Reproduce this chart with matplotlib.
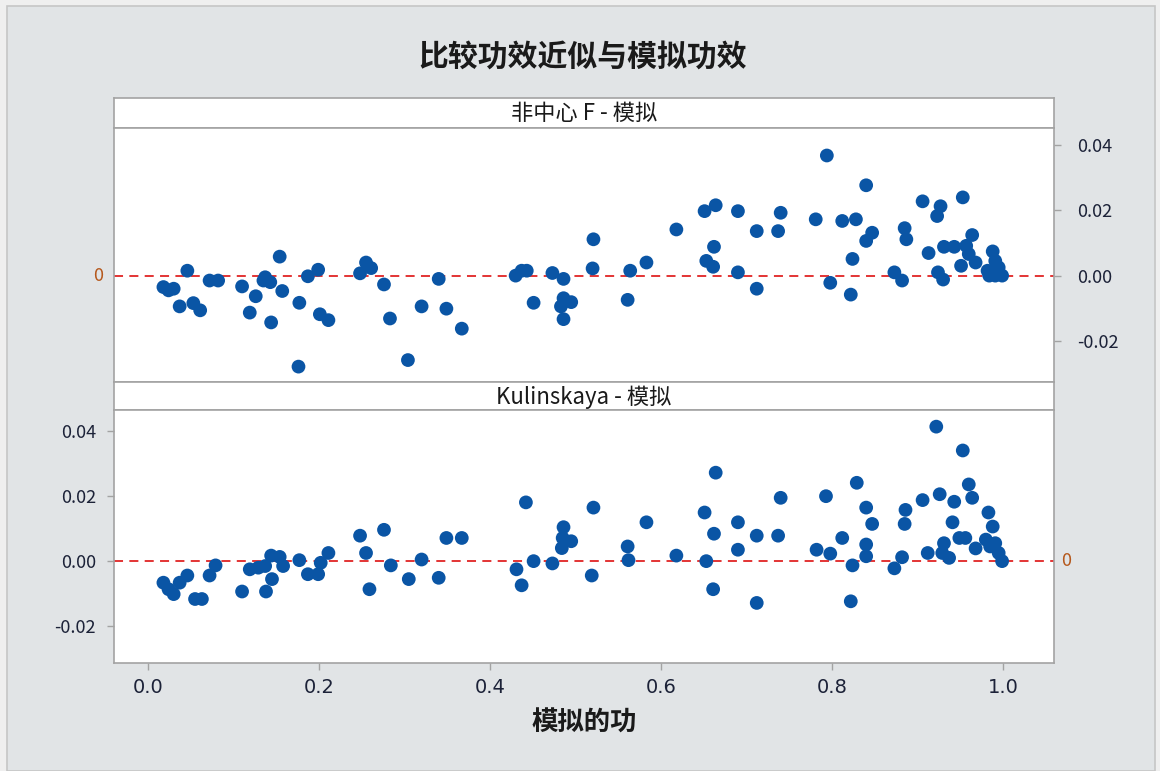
import matplotlib
matplotlib.use("Agg")
import matplotlib.pyplot as plt
from matplotlib import font_manager
from matplotlib.patches import Rectangle
from matplotlib.ticker import FormatStrFormatter

plt.rcParams['font.family'] = ['Noto Sans CJK SC', 'DejaVu Sans']
plt.rcParams['axes.unicode_minus'] = False

title = "比较功效近似与模拟功效"
xlabel = "模拟的功"
panel_f = "非中心 F - 模拟"
panel_k = "Kulinskaya - 模拟"
xticks = [0.0, 0.2, 0.4, 0.6, 0.8, 1.0]
yticks = [-0.02, 0.00, 0.02, 0.04]

# noncentral F approximation minus simulated power
f_power = [0.018, 0.024, 0.030, 0.046, 0.037, 0.053, 0.061, 0.072, 0.082, 0.110,
           0.126, 0.119, 0.135, 0.137, 0.143, 0.154, 0.157, 0.144, 0.177, 0.176,
           0.187, 0.199, 0.201, 0.211, 0.248, 0.255, 0.261, 0.276, 0.283, 0.304,
           0.320, 0.340, 0.349, 0.367, 0.430, 0.437, 0.443, 0.451, 0.473, 0.486,
           0.486, 0.495, 0.483, 0.486, 0.520, 0.521, 0.561, 0.564, 0.583, 0.618,
           0.651, 0.664, 0.653, 0.661, 0.662, 0.690, 0.690, 0.712, 0.712, 0.740,
           0.737, 0.781, 0.794, 0.798, 0.812, 0.828, 0.824, 0.822, 0.840, 0.840,
           0.847, 0.873, 0.882, 0.885, 0.887, 0.906, 0.927, 0.923, 0.953, 0.913,
           0.931, 0.943, 0.964, 0.957, 0.960, 0.951, 0.924, 0.930, 0.968, 0.988,
           0.991, 0.982, 0.995, 0.999, 0.991, 0.984]
f_diff = [-0.0035, -0.0045, -0.0040, 0.0015, -0.0094, -0.0084, -0.0106, -0.0015, -0.0015, -0.0033,
          -0.0063, -0.0113, -0.0015, -0.0005, -0.0020, 0.0058, -0.0047, -0.0143, -0.0083, -0.0278,
          -0.0002, 0.0018, -0.0118, -0.0136, 0.0007, 0.0040, 0.0023, -0.0027, -0.0131, -0.0258,
          -0.0094, -0.0010, -0.0101, -0.0162, 0.0000, 0.0015, 0.0015, -0.0083, 0.0008, -0.0010,
          -0.0069, -0.0081, -0.0094, -0.0133, 0.0022, 0.0111, -0.0074, 0.0015, 0.0040, 0.0141,
          0.0197, 0.0215, 0.0045, 0.0027, 0.0088, 0.0197, 0.0010, 0.0136, -0.0040, 0.0192,
          0.0136, 0.0172, 0.0367, -0.0022, 0.0167, 0.0172, 0.0051, -0.0058, 0.0276, 0.0106,
          0.0131, 0.0010, -0.0015, 0.0145, 0.0111, 0.0227, 0.0212, 0.0182, 0.0239, 0.0069,
          0.0088, 0.0088, 0.0124, 0.0091, 0.0066, 0.0030, 0.0010, -0.0012, 0.0040, 0.0074,
          0.0045, 0.0015, 0.0025, 0.0000, 0.0000, 0.0000]

# Kulinskaya approximation minus simulated power
k_power = [0.018, 0.024, 0.030, 0.037, 0.046, 0.055, 0.063, 0.072, 0.079, 0.110,
           0.119, 0.129, 0.137, 0.145, 0.138, 0.144, 0.154, 0.158, 0.177, 0.187,
           0.199, 0.202, 0.211, 0.248, 0.255, 0.259, 0.276, 0.284, 0.305, 0.320,
           0.340, 0.349, 0.367, 0.431, 0.437, 0.442, 0.451, 0.473, 0.486, 0.485,
           0.495, 0.484, 0.519, 0.521, 0.561, 0.562, 0.583, 0.618, 0.651, 0.664,
           0.653, 0.661, 0.662, 0.690, 0.690, 0.712, 0.712, 0.740, 0.737, 0.782,
           0.793, 0.798, 0.812, 0.829, 0.824, 0.822, 0.840, 0.847, 0.840, 0.840,
           0.873, 0.882, 0.886, 0.885, 0.906, 0.922, 0.926, 0.912, 0.931, 0.929,
           0.937, 0.943, 0.941, 0.953, 0.960, 0.964, 0.949, 0.956, 0.968, 0.983,
           0.988, 0.980, 0.991, 0.995, 0.999, 0.985]
k_diff = [-0.0066, -0.0086, -0.0101, -0.0066, -0.0044, -0.0116, -0.0116, -0.0044, -0.0013, -0.0093,
          -0.0025, -0.0020, -0.0015, -0.0055, -0.0093, 0.0017, 0.0013, -0.0015, 0.0003, -0.0040,
          -0.0040, -0.0005, 0.0025, 0.0078, 0.0025, -0.0086, 0.0096, -0.0013, -0.0055, 0.0005,
          -0.0051, 0.0071, 0.0071, -0.0025, -0.0074, 0.0180, 0.0000, -0.0007, 0.0104, 0.0071,
          0.0061, 0.0040, -0.0044, 0.0164, 0.0045, 0.0003, 0.0119, 0.0017, 0.0149, 0.0271,
          0.0000, -0.0086, 0.0084, 0.0119, 0.0035, 0.0078, -0.0128, 0.0194, 0.0078, 0.0035,
          0.0199, 0.0023, 0.0071, 0.0240, -0.0013, -0.0123, 0.0164, 0.0114, 0.0051, 0.0015,
          -0.0022, 0.0012, 0.0157, 0.0114, 0.0187, 0.0412, 0.0205, 0.0025, 0.0055, 0.0025,
          0.0010, 0.0182, 0.0119, 0.0339, 0.0235, 0.0194, 0.0071, 0.0071, 0.0039, 0.0149,
          0.0106, 0.0066, 0.0055, 0.0025, 0.0000, 0.0045]

BG = "#e1e4e6"
FRAME = "#a3a3a3"
DOT = "#0a55a5"
REF = "#e02424"
REF_TXT = "#b5581c"
TXT = "#1c2238"

names = {f.name for f in font_manager.fontManager.ttflist}
narrow = "Liberation Sans Narrow" if "Liberation Sans Narrow" in names else "DejaVu Sans"

fig = plt.figure(figsize=(11.6, 7.71), dpi=100, facecolor="#efefef")
fig.patches.append(Rectangle((7 / 1160, 0), 1148 / 1160, 1 - 6 / 771,
                             transform=fig.transFigure, facecolor=BG,
                             edgecolor="#c6c6c6", linewidth=1.2, zorder=-10))

left, width = 114 / 1160, 940 / 1160


def fy(px):
    return 1 - px / 771


def strip(top, bottom, label):
    s = fig.add_axes([left, fy(bottom), width, fy(top) - fy(bottom)])
    s.set_xticks([])
    s.set_yticks([])
    for sp in s.spines.values():
        sp.set_color(FRAME)
        sp.set_linewidth(1.2)
    s.text(0.5, 0.47, label, ha="center", va="center", fontsize=16,
           color="#1a1a1a", transform=s.transAxes)


def panel(top, bottom, x, y, ylim):
    ax = fig.add_axes([left, fy(bottom), width, fy(top) - fy(bottom)])
    ax.scatter(x, y, s=98, color=DOT, edgecolors="none", zorder=3)
    ax.axhline(0, color=REF, linestyle=(0, (5, 3.5)), linewidth=1.3, zorder=2)
    ax.set_xlim(-0.0398, 1.0597)
    ax.set_ylim(*ylim)
    ax.set_yticks(yticks)
    ax.yaxis.set_major_formatter(FormatStrFormatter("%.2f"))
    for sp in ax.spines.values():
        sp.set_color(FRAME)
        sp.set_linewidth(1.2)
    ax.tick_params(colors=FRAME, labelcolor=TXT, labelsize=13, length=5, width=1)
    return ax


strip(98, 128, panel_f)
ax1 = panel(128, 382, f_power, f_diff, (-0.0325, 0.0451))
ax1.yaxis.tick_right()
ax1.tick_params(axis="y", pad=12)
ax1.set_xticks([])
ax1.text(-0.012, 0, "0", transform=ax1.get_yaxis_transform(), ha="right",
         va="center", fontsize=13, color=REF_TXT)

strip(382, 410, panel_k)
ax2 = panel(410, 663, k_power, k_diff, (-0.0312, 0.0463))
ax2.tick_params(axis="y", pad=8)
ax2.set_xticks(xticks)
ax2.set_xticklabels([f"{t:.1f}" for t in xticks], fontfamily=narrow, fontsize=14)
ax2.tick_params(axis="x", pad=6)
ax2.text(1.008, 0, "0", transform=ax2.get_yaxis_transform(), ha="left",
         va="center", fontsize=13, color=REF_TXT)
ax2.set_xlabel(xlabel, fontsize=19, fontweight="bold", color="#1a1a1a", labelpad=9)

fig.text(583 / 1160, fy(58), title, ha="center", va="center", fontsize=21.5,
         fontweight="bold", color="#1a1a1a")

fig.savefig("out.png", dpi=100, facecolor=fig.get_facecolor())
